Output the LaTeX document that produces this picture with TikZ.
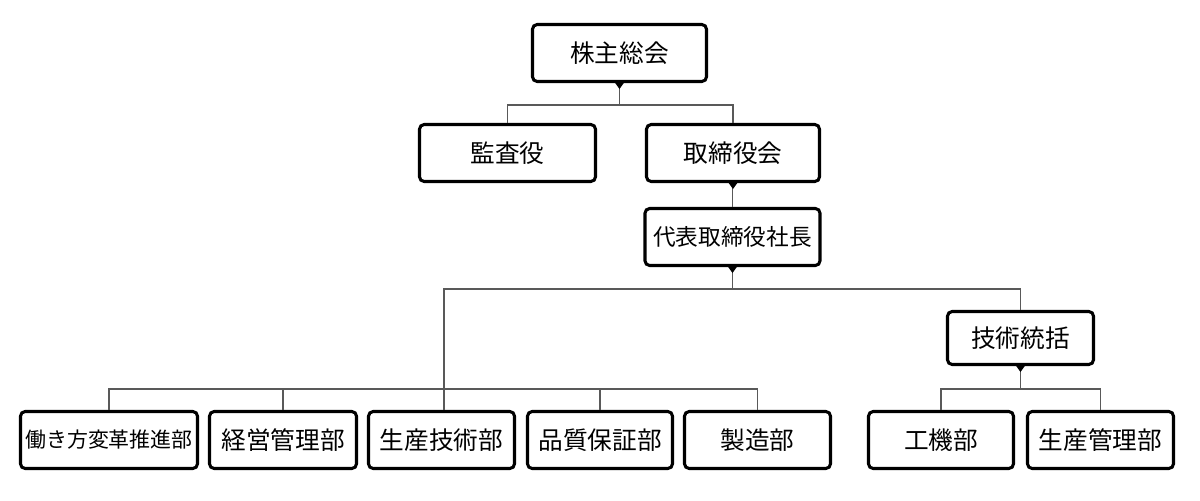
\documentclass[tikz,border=0pt]{standalone}
\usepackage{fontspec}
\newfontfamily\jp{Noto Sans CJK JP}
\begin{document}
\begin{tikzpicture}[x=0.75pt,y=-0.75pt,
  box/.style={draw=black,line width=2.3pt,rounded corners=3.5pt,fill=white,
    inner sep=0pt,minimum height=42.75pt,font=\jp\fontsize{18.5}{20}\selectfont},
  conn/.style={draw=black!65,line width=0.8pt},
  tipmark/.style={fill=black}]
\useasboundingbox[fill=white] (0,0) rectangle (1200,500);
% boxes
\node[box,minimum width=130.5pt] (A) at (619.5,53) {株主総会};
\node[box,minimum width=132pt] (B) at (507.5,153) {監査役};
\node[box,minimum width=129.75pt] (C) at (733,153) {取締役会};
\node[box,minimum width=131.25pt,font=\jp\fontsize{17}{19}\selectfont] (D) at (732.5,237) {代表取締役社長};
\node[box,minimum width=109.5pt,minimum height=39.75pt] (E) at (1020.5,338) {技術統括};
\node[box,minimum width=132.75pt,font=\jp\fontsize{15.7}{18}\selectfont] (F1) at (109,440) {働き方変革推進部};
\node[box,minimum width=110.25pt] (F2) at (283,440) {経営管理部};
\node[box,minimum width=109.5pt] (F3) at (441.5,440) {生産技術部};
\node[box,minimum width=108.75pt] (F4) at (600,440) {品質保証部};
\node[box,minimum width=109.5pt] (F5) at (757.5,440) {製造部};
\node[box,minimum width=108.75pt] (G1) at (941,440) {工機部};
\node[box,minimum width=109.5pt] (G2) at (1100.5,440) {生産管理部};
% junctions
\coordinate (jA) at (619.5,105);
\coordinate (jD) at (732.5,289);
\coordinate (jF) at (444,389);
\coordinate (jG) at (1020.5,389);
% connectors
\draw[conn] (A.south) -- (jA);
\draw[conn] (B.north) |- (jA) -| (C.north);
\draw[conn] (C.south -| D.north) -- (D.north);
\draw[conn] (D.south) -- (jD);
\draw[conn] (jF) |- (jD) -| (E.north);
\draw[conn] (F1.north) |- (jF) -| (F5.north);
\draw[conn] (F2.north) -- (F2.north |- jF);
\draw[conn] (jF |- F3.north) -- (jF);
\draw[conn] (F4.north) -- (F4.north |- jF);
\draw[conn] (E.south) -- (jG);
\draw[conn] (G1.north) |- (jG) -| (G2.north);
% markers
\foreach \n in {A,C,D,E}{
  \fill[tipmark] ([xshift=-3.2pt]\n.south) -- ([xshift=3.2pt]\n.south) -- ([yshift=-4.5pt]\n.south) -- cycle;
}
\end{tikzpicture}
\end{document}
